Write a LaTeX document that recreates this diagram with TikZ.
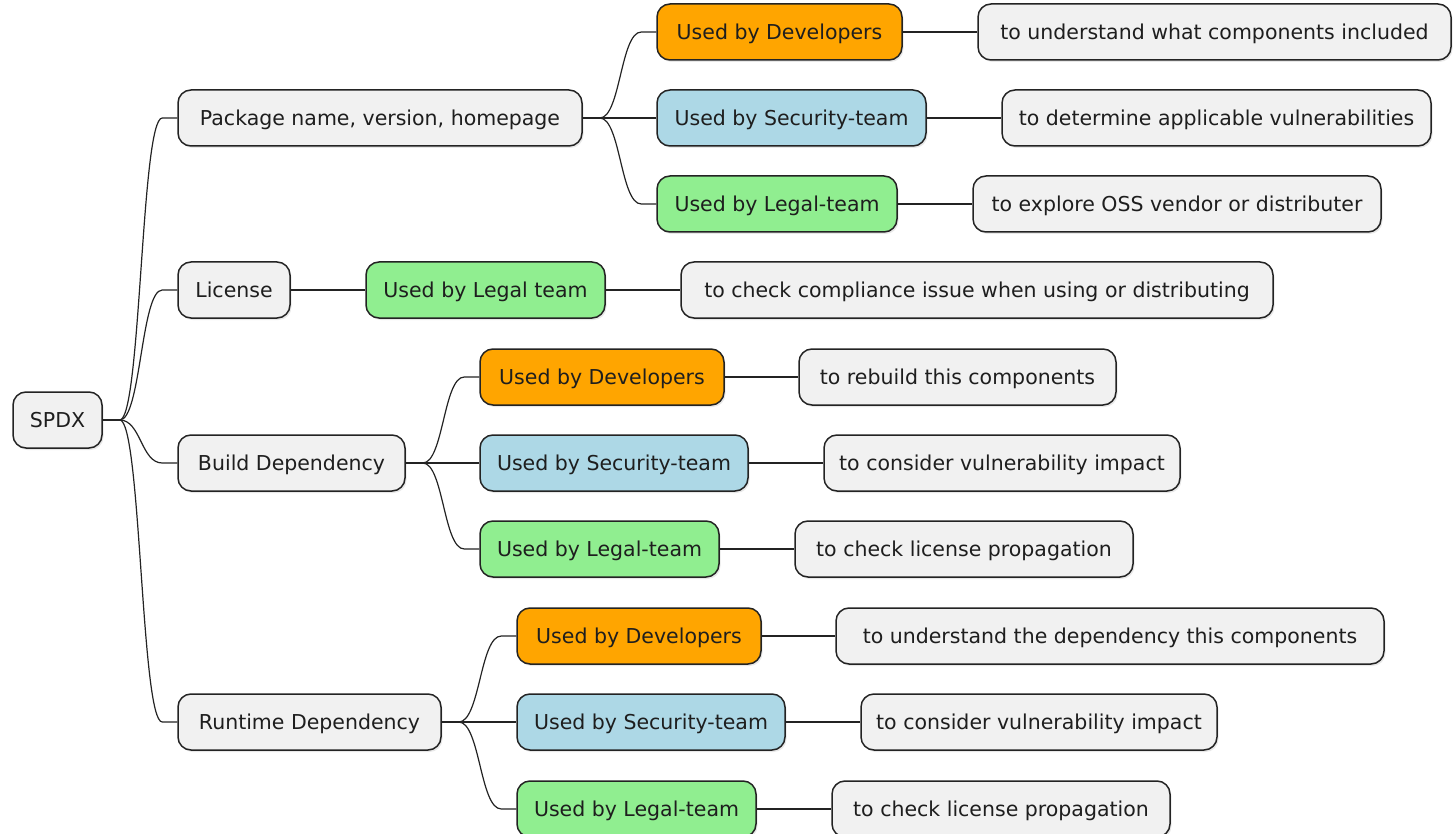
\documentclass[tikz,border=0pt]{standalone}
\usepackage{fontspec}
\setmainfont{DejaVu Sans}
\usetikzlibrary{calc,shadows}

\definecolor{boxfill}{HTML}{F1F1F1}
\definecolor{boxline}{HTML}{232323}
\definecolor{textcol}{HTML}{1E1E1E}
\definecolor{devfill}{HTML}{FFA500}
\definecolor{secfill}{HTML}{ADD8E6}
\definecolor{legfill}{HTML}{90EE90}

\tikzset{
  mbox/.style={draw=boxline, line width=1.5pt, fill=boxfill, rounded corners=13pt,
    minimum height=56pt, inner sep=0pt, text=textcol,
    text height=16pt, text depth=1.5pt,
    font=\fontsize{20.5}{24}\selectfont,
    drop shadow={shadow xshift=1.5pt, shadow yshift=-2pt, opacity=0.18}},
  dev/.style={mbox, fill=devfill},
  sec/.style={mbox, fill=secfill},
  leg/.style={mbox, fill=legfill},
  branch/.style={draw=boxline, line width=1.2pt}
}

% parent-to-child connector: short stub, S-curve, short stub
\newcommand{\mmlink}[2]{%
  \draw[branch] let \p1=(#1.east), \p2=(#2.west) in
    (\p1) -- (\x1+17pt,\y1)
    .. controls ({(\x1+\x2+2pt)/2},\y1) and ({(\x1+\x2+2pt)/2},\y2) ..
    (\x2-15pt,\y2) -- (\p2);}

\begin{document}
\begin{tikzpicture}[x=1pt,y=-1pt]
\useasboundingbox (0,0) rectangle (1453,834);

% root and first level
\node[mbox, minimum width=89pt]  (spdx) at (57.5,420) {SPDX};
\node[mbox, minimum width=404pt] (pkg)  at (380,118) {Package name, version, homepage};
\node[mbox, minimum width=112pt] (lic)  at (234,290) {License};
\node[mbox, minimum width=227pt] (bld)  at (291.5,463) {Build Dependency};
\node[mbox, minimum width=263pt] (run)  at (309.5,722) {Runtime Dependency};

% package branch
\node[dev, minimum width=245pt] (pkgdev) at (779.5,32) {Used by Developers};
\node[sec, minimum width=269pt] (pkgsec) at (791.5,118) {Used by Security-team};
\node[leg, minimum width=240pt] (pkgleg) at (777,204) {Used by Legal-team};
\node[mbox, minimum width=473pt] (pkgdevt) at (1214.5,32) {to understand what components included};
\node[mbox, minimum width=429pt] (pkgsect) at (1216.5,118) {to determine applicable vulnerabilities};
\node[mbox, minimum width=408pt] (pkglegt) at (1177,204) {to explore OSS vendor or distributer};

% license branch
\node[leg, minimum width=239pt] (licleg) at (485.5,290) {Used by Legal team};
\node[mbox, minimum width=592pt] (liclegt) at (977,290) {to check compliance issue when using or distributing};

% build dependency branch
\node[dev, minimum width=244pt] (blddev) at (602,377) {Used by Developers};
\node[sec, minimum width=268pt] (bldsec) at (614,463) {Used by Security-team};
\node[leg, minimum width=239pt] (bldleg) at (599.5,549) {Used by Legal-team};
\node[mbox, minimum width=317pt] (blddevt) at (957.5,377) {to rebuild this components};
\node[mbox, minimum width=356pt] (bldsect) at (1002,463) {to consider vulnerability impact};
\node[mbox, minimum width=338pt] (bldlegt) at (964,549) {to check license propagation};

% runtime dependency branch
\node[dev, minimum width=244pt] (rundev) at (639,636) {Used by Developers};
\node[sec, minimum width=268pt] (runsec) at (651,722) {Used by Security-team};
\node[leg, minimum width=239pt] (runleg) at (636.5,809) {Used by Legal-team};
\node[mbox, minimum width=548pt] (rundevt) at (1110,636) {to understand the dependency this components};
\node[mbox, minimum width=356pt] (runsect) at (1039,722) {to consider vulnerability impact};
\node[mbox, minimum width=338pt] (runlegt) at (1001,809) {to check license propagation};

% connectors
\mmlink{spdx}{pkg}
\mmlink{spdx}{lic}
\mmlink{spdx}{bld}
\mmlink{spdx}{run}

\mmlink{pkg}{pkgdev}
\mmlink{pkg}{pkgsec}
\mmlink{pkg}{pkgleg}
\mmlink{pkgdev}{pkgdevt}
\mmlink{pkgsec}{pkgsect}
\mmlink{pkgleg}{pkglegt}

\mmlink{lic}{licleg}
\mmlink{licleg}{liclegt}

\mmlink{bld}{blddev}
\mmlink{bld}{bldsec}
\mmlink{bld}{bldleg}
\mmlink{blddev}{blddevt}
\mmlink{bldsec}{bldsect}
\mmlink{bldleg}{bldlegt}

\mmlink{run}{rundev}
\mmlink{run}{runsec}
\mmlink{run}{runleg}
\mmlink{rundev}{rundevt}
\mmlink{runsec}{runsect}
\mmlink{runleg}{runlegt}
\end{tikzpicture}
\end{document}
